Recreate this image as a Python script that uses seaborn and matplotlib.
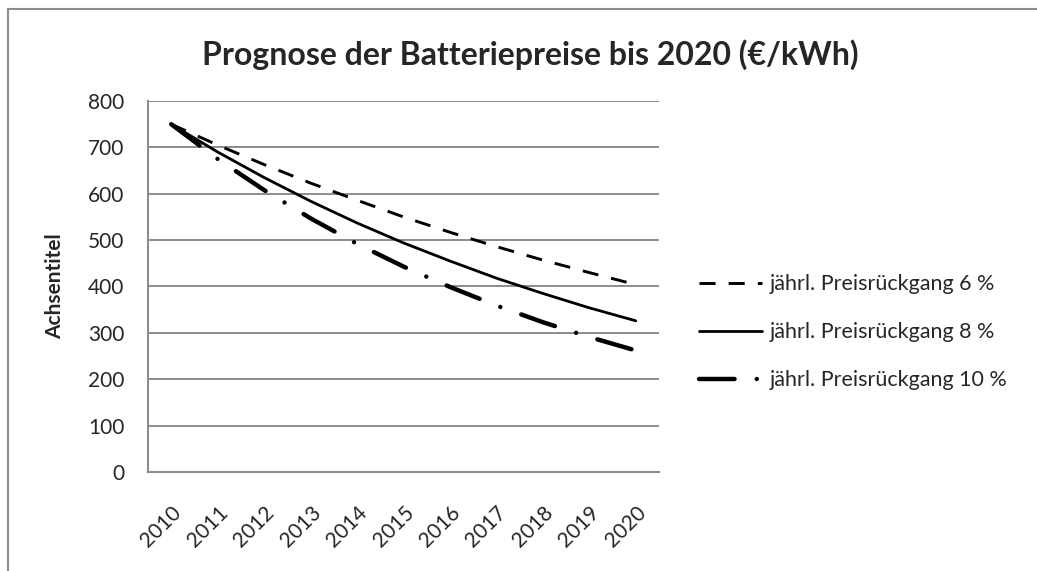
import matplotlib
matplotlib.use("Agg")
import matplotlib.pyplot as plt
from matplotlib.lines import Line2D
import seaborn as sns
import pandas as pd

# Daten
jahre = ["2010", "2011", "2012", "2013", "2014", "2015",
         "2016", "2017", "2018", "2019", "2020"]
rueckgang_6 = [750, 705, 663, 623, 586, 550, 517, 486, 457, 430, 404]
rueckgang_8 = [750, 690, 635, 584, 537, 494, 455, 418, 385, 354, 326]
rueckgang_10 = [750, 675, 608, 547, 492, 443, 399, 359, 323, 291, 262]
labels = ["jährl. Preisrückgang 6 %",
          "jährl. Preisrückgang 8 %",
          "jährl. Preisrückgang 10 %"]
y_ticks = [0, 100, 200, 300, 400, 500, 600, 700, 800]

sns.set_style("white")
plt.rcParams["font.family"] = ["Lato", "DejaVu Sans"]

fig = plt.figure(figsize=(10.37, 5.71), dpi=100)
ax = fig.add_axes([0.1427, 0.1734, 0.4928, 0.6497])

# Stil je Linie: (linewidth, linestyle, capstyle)
stile = [
    (2.1, (0, (5.5, 4.5)), "butt"),
    (2.0, "-", "butt"),
    (3.2, (0, (8.0, 5.0, 0.01, 5.0)), "round"),
]

for werte, label, (lw, ls, cap) in zip([rueckgang_6, rueckgang_8, rueckgang_10], labels, stile):
    df = pd.DataFrame({"Jahr": jahre, "Preis": werte})
    sns.lineplot(data=df, x="Jahr", y="Preis", ax=ax, color="black",
                 linewidth=lw, linestyle=ls, dash_capstyle=cap,
                 sort=False, legend=False)

ax.set_xlim(-0.5, len(jahre) - 0.5)
ax.set_ylim(0, 800)
ax.set_yticks(y_ticks)
ax.yaxis.grid(True, color="#8c8c8c", linewidth=1.4)
ax.xaxis.grid(False)
for side in ["top", "right"]:
    ax.spines[side].set_visible(False)
for side in ["left", "bottom"]:
    ax.spines[side].set_color("#8c8c8c")
    ax.spines[side].set_linewidth(1.5)

ax.tick_params(axis="y", length=0, pad=17, labelsize=15)
ax.tick_params(axis="x", length=0, pad=22, labelsize=15)
for t in ax.get_xticklabels():
    t.set_rotation(45)
    t.set_ha("right")
    t.set_va("top")
    t.set_rotation_mode("anchor")

ax.set_xlabel("")
ax.set_ylabel("Achsentitel", fontsize=15, fontweight="bold")
ax.yaxis.set_label_coords(-0.163, 0.5)

fig.text(0.511, 0.905, "Prognose der Batteriepreise bis 2020 (€/kWh)",
         ha="center", va="center", fontsize=23, fontweight="bold")

# Legende
handles = [Line2D([0], [0], color="black", linewidth=lw, linestyle=ls,
                  dash_capstyle=cap) for lw, ls, cap in stile]
fig.legend(handles, labels, loc="center left", bbox_to_anchor=(0.655, 0.418),
           frameon=False, fontsize=15.5, handlelength=2.95, handletextpad=0.35,
           labelspacing=1.3)

# Rahmen des Diagrammbereichs
fig.add_artist(Line2D([8 / 1037, 1.0], [1 - 9 / 571, 1 - 9 / 571],
                      transform=fig.transFigure, color="#8c8c8c", linewidth=1.5))
fig.add_artist(Line2D([8 / 1037, 8 / 1037], [0.0, 1 - 9 / 571],
                      transform=fig.transFigure, color="#8c8c8c", linewidth=1.5))

fig.savefig("out.png", dpi=100)
